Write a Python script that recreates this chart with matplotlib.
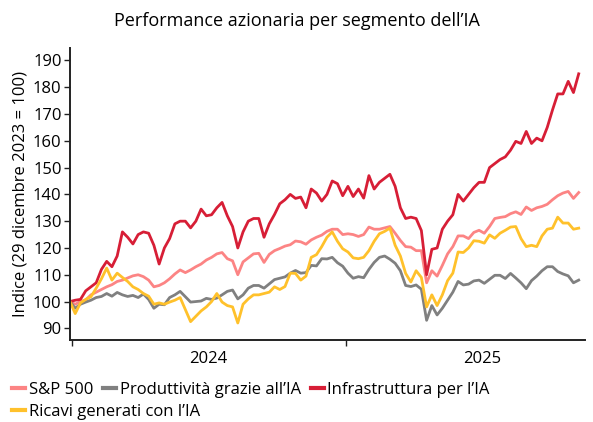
import numpy as np
import pandas as pd
import matplotlib
matplotlib.use("Agg")
import matplotlib.pyplot as plt
import matplotlib.dates as mdates
from matplotlib.lines import Line2D

plt.rcParams['font.family'] = ['Open Sans', 'DejaVu Sans']

# settimanale dal 29 dicembre 2023 (indice = 100)
date = pd.date_range("2023-12-29", periods=98, freq="7D")

sp500 = [100, 99, 100, 100.6, 102.5, 103.5, 104.5, 105.5, 106.3, 107.5,
         108, 108.8, 109.6, 110, 109.3, 108, 105.5, 106, 107, 108.5,
         110.3, 111.8, 110.8, 111.8, 113, 114, 115.5, 116.5, 117.8, 118.3,
         116, 115.2, 110, 114.8, 116.3, 117.8, 118, 114.6, 117.6, 119,
         119.8, 120.7, 121.2, 122.6, 122.3, 121.4, 123, 124, 124.8, 126.2,
         127, 127, 125, 125.3, 125, 124.3, 125, 127.8, 127, 127,
         127.5, 128, 125.5, 122.8, 120.5, 120.3, 119, 119, 107, 111.5,
         109.5, 113.5, 117.8, 120.5, 124.5, 124.5, 123.5, 125.8, 126.6, 125.5,
         128, 131, 131.4, 131.7, 132.8, 133.5, 132.5, 135.3, 134, 135,
         135.5, 136.3, 138, 139.5, 140.5, 141.1, 138.5, 140.7]

produttivita = [100, 97.5, 99, 99.8, 100.5, 101.5, 101.9, 103, 102, 103.4,
                102.5, 101.9, 102.3, 101.5, 102.8, 100.8, 97.5, 99, 98.8, 101.5,
                102.5, 103.8, 101.8, 99.8, 100, 100.2, 101.2, 100.8, 101.3, 102.5,
                103.8, 104.3, 101, 102.5, 105, 106, 106, 105, 106.6, 108.2,
                108.7, 109.2, 110.6, 111.6, 110.6, 110.8, 113.5, 113.3, 116, 115.9,
                116.5, 114.5, 113.2, 110.6, 108.7, 109.3, 108.9, 112, 114.6, 116.5,
                117, 115.8, 114.3, 111.5, 106, 105.6, 106.2, 104.6, 93, 98.5,
                95, 97.5, 100.5, 103.5, 107.5, 106.2, 106.5, 107.7, 108, 106.8,
                108.3, 109.8, 109.8, 108.6, 110.5, 108.8, 107, 104.8, 107.8, 109.5,
                111.5, 113, 113, 111.2, 110.3, 109.6, 107, 108]

infrastruttura = [100, 100.5, 100.8, 104, 105.5, 107, 112, 115, 113, 117,
                  126, 124, 121.5, 125, 126, 125.5, 121, 114, 120, 123.5,
                  129, 130, 130, 127.5, 130, 134.5, 132, 132.4, 135, 137,
                  132, 128, 120, 126, 130, 131, 131, 124, 129, 132.5,
                  136.5, 138, 140, 138.5, 139, 135, 142, 140.5, 137.5, 140,
                  145, 144, 139.5, 143, 139.2, 142, 138.6, 147, 142, 144.5,
                  146, 147.5, 143, 135, 131, 131.5, 131, 126.5, 110, 119.5,
                  120, 127, 130, 132.4, 140, 137.5, 140, 142.5, 144.5, 144.5,
                  150, 151.5, 153, 154, 156.5, 159.8, 159, 163.5, 159, 161,
                  160, 165, 171.5, 177.5, 177.5, 182.2, 178, 185]

ricavi = [100, 95.5, 99.5, 100.8, 101.8, 105, 108.5, 112.5, 108, 110.6,
          109, 107.5, 105.5, 104.5, 103, 102, 99, 99.5, 99, 99.8,
          100.5, 101.5, 97, 92.5, 94.5, 96.5, 98, 100, 103, 99.8,
          98.5, 98, 92, 99, 101, 102.5, 102.5, 103, 103.5, 105.5,
          104.5, 105.6, 110.6, 110.5, 108, 109.5, 116.5, 117.5, 120.5, 124,
          126, 122.5, 119.7, 118.5, 116.3, 116, 116.5, 119, 122.5, 125.3,
          126.2, 127.4, 121, 117, 110.5, 107.3, 111.5, 109, 98, 102.5,
          98.5, 102.5, 107.8, 110.6, 118.5, 118.3, 120, 122.7, 122.5, 121.8,
          124.9, 123.6, 125.5, 126.6, 127.8, 128, 123.5, 120.5, 121, 120.5,
          124.5, 127, 127.4, 131.5, 129.3, 129.3, 127, 127.4]

serie = ["S&P 500", "Produttività grazie all’IA", "Infrastruttura per l’IA",
         "Ricavi generati con l’IA"]
colori = ["#FC8484", "#808080", "#D71E36", "#FFC12B"]
valori = [sp500, produttivita, infrastruttura, ricavi]

fig = plt.figure(figsize=(5.93, 4.22), dpi=100)
ax = fig.add_axes([0.118, 0.194, 0.868, 0.692])

for nome, col, v in zip(serie, colori, valori):
    ax.plot(date, v, color=col, lw=2.0, label=nome, solid_joinstyle="round")

ax.set_ylim(85.6, 194.6)
ax.set_yticks(np.arange(90, 191, 10))
ax.set_xlim(pd.Timestamp("2023-12-29"), pd.Timestamp("2025-11-15"))

ax.xaxis.set_major_locator(mdates.YearLocator())
ax.xaxis.set_major_formatter(plt.NullFormatter())
ax.xaxis.set_minor_locator(mdates.MonthLocator(bymonth=7, bymonthday=1))
ax.xaxis.set_minor_formatter(mdates.DateFormatter("%Y"))
ax.tick_params(axis="x", which="minor", length=0, pad=8, labelsize=12)
ax.tick_params(axis="x", which="major", length=4, width=1, color="#222222")
ax.tick_params(axis="y", length=4, width=1, color="#222222", labelsize=12, pad=2)

for s in ["top", "right"]:
    ax.spines[s].set_visible(False)
for s in ["left", "bottom"]:
    ax.spines[s].set_color("#222222")
    ax.spines[s].set_linewidth(1.4)

ax.set_ylabel("Indice (29 dicembre 2023 = 100)", fontsize=12, labelpad=3)
fig.text(0.5, 0.95, "Performance azionaria per segmento dell’IA",
         ha="center", va="center", fontsize=13)

# legenda su due righe, allineata a sinistra
maniglie = [Line2D([], [], color=c, lw=3) for c in colori]
kw = dict(frameon=False, fontsize=12, handlelength=0.8, handletextpad=0.2,
          columnspacing=0.6, borderaxespad=0, borderpad=0)
fig.legend(maniglie[:3], serie[:3], loc="center left", ncol=3,
           bbox_to_anchor=(0.02, 1 - 390 / 422), **kw)
fig.legend(maniglie[3:], serie[3:], loc="center left",
           bbox_to_anchor=(0.02, 1 - 412 / 422), **kw)

fig.savefig("out.png", dpi=100)
